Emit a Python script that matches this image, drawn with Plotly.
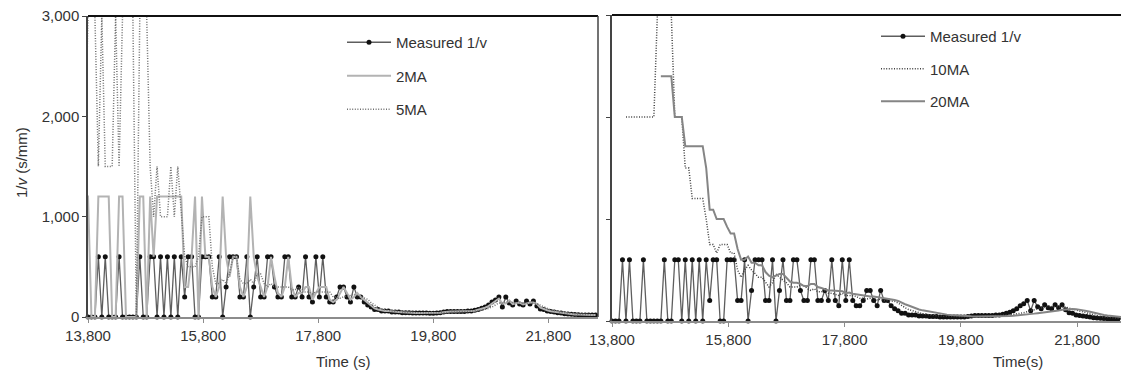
import plotly.graph_objects as go

# ---------------- data ----------------
# Measured 1/v (s/mm) sampled every 60 s; the first five samples precede the axis start
t_first = 13500
dt = 60
measured = [
    600, 0, 0, 0, 600,                      # 13,500 - 13,740 (before axis start)
    0, 0, 0, 600, 0, 600, 0, 0, 0, 600,
    0, 0, 0, 0, 0, 600, 0, 0, 600, 600,
    0, 600, 0, 600, 0, 600, 0, 600, 200, 600,
    600, 0, 0, 600, 600, 600, 200, 200, 600, 0,
    300, 600, 600, 600, 200, 200, 600, 0, 300, 600,
    200, 200, 600, 600, 300, 200, 200, 600, 600, 200,
    200, 300, 200, 600, 200, 150, 600, 200, 600, 200,
    150, 150, 200, 300, 300, 200, 150, 300, 200, 200,
    150, 120, 100, 75, 75, 60, 60, 60, 50, 50,
    50, 43, 43, 43, 40, 40, 40, 40, 40, 38,
    38, 40, 43, 50, 55, 55, 55, 55, 55, 55,
    60, 60, 67, 75, 86, 100, 120, 150, 170, 200,
    100, 200, 140, 120, 160, 130, 120, 160, 130, 160,
    110, 80, 75, 60, 55, 50, 43, 40, 33, 30,
    27, 25, 23, 20, 20, 20, 20, 20,
]
time_s = [t_first + dt * k for k in range(len(measured))]
axis_start = 13800

x_ticks = [13800, 15800, 17800, 19800, 21800]
y_ticks = [0, 1000, 2000, 3000]


def moving_avg_inv(series, n):
    """n-point moving average of velocity (1/value), returned again as 1/v."""
    out = []
    for i in range(len(series)):
        if i < n - 1:
            out.append(None)
            continue
        vs = [1.0 / s for s in series[i - n + 1:i + 1] if s > 0]
        tot = sum(vs)
        out.append(n / tot if tot > 0 else 0)
    return out


ma2 = moving_avg_inv(measured, 2)
ma5 = moving_avg_inv(measured, 5)
ma10 = moving_avg_inv(measured, 10)
ma20 = moving_avg_inv(measured, 20)

i0 = time_s.index(axis_start)

# ---------------- figure ----------------
W, H = 1121, 374
FONT = "Liberation Sans, Arial, sans-serif"
TXT = "#333333"
DOT = "1px,1.6px"

fig = go.Figure()

meas_style = dict(mode="lines+markers",
                  line=dict(color="#5e5e5e", width=1.3),
                  marker=dict(color="#111111", size=5),
                  cliponaxis=False)

# left panel
fig.add_trace(go.Scatter(x=time_s[i0:], y=measured[i0:], name="Measured 1/v",
                         xaxis="x", yaxis="y", legend="legend", legendgroup="a", **meas_style))
fig.add_trace(go.Scatter(x=time_s, y=ma2, name="2MA", mode="lines",
                         line=dict(color="#b3b3b3", width=2),
                         xaxis="x", yaxis="y", legend="legend", legendgroup="b"))
fig.add_trace(go.Scatter(x=time_s, y=ma5, name="5MA", mode="lines",
                         line=dict(color="#6f6f6f", width=1.5, dash=DOT),
                         xaxis="x", yaxis="y", legend="legend", legendgroup="c"))

# right panel
fig.add_trace(go.Scatter(x=time_s[i0:], y=measured[i0:], name="Measured 1/v",
                         xaxis="x2", yaxis="y2", legend="legend2", legendgroup="d", **meas_style))
fig.add_trace(go.Scatter(x=time_s, y=ma10, name="10MA", mode="lines",
                         line=dict(color="#404040", width=1.5, dash=DOT),
                         xaxis="x2", yaxis="y2", legend="legend2", legendgroup="e"))
fig.add_trace(go.Scatter(x=time_s, y=ma20, name="20MA", mode="lines",
                         line=dict(color="#858585", width=2),
                         xaxis="x2", yaxis="y2", legend="legend2", legendgroup="f"))

xl = [88 / W, 598 / W]
xr = [612 / W, 1.0]
yl = [1 - 317 / H, 1 - 16 / H]
yr = [1 - 321 / H, 1 - 15 / H]

xaxis_common = dict(tickvals=x_ticks, tickformat=",d", showgrid=False, zeroline=False,
                    showline=True, linecolor="#8c8c8c", linewidth=1.5, automargin=False,
                    ticks="outside", ticklen=4, tickcolor="#8c8c8c",
                    tickfont=dict(family=FONT, size=15, color=TXT))
yaxis_common = dict(range=[0, 3000], tickvals=y_ticks, tickformat=",d", showgrid=False,
                    zeroline=False, showline=True, linecolor="#444444", linewidth=1.5,
                    automargin=False,
                    ticks="outside", ticklen=4, tickcolor="#444444",
                    tickfont=dict(family=FONT, size=15, color=TXT))

fig.update_layout(
    width=W, height=H, margin=dict(l=0, r=0, t=0, b=0, autoexpand=False),
    paper_bgcolor="white", plot_bgcolor="white",
    font=dict(family=FONT, size=15, color=TXT),
    xaxis=dict(domain=xl, range=[axis_start, 22662], anchor="y", **xaxis_common),
    yaxis=dict(domain=yl, anchor="x", **yaxis_common),
    xaxis2=dict(domain=xr, range=[axis_start, 22553], anchor="y2", **xaxis_common),
    yaxis2=dict(domain=yr, anchor="x2", showticklabels=False, **yaxis_common),
    legend=dict(x=342 / W, y=1 - 26 / H, xanchor="left", yanchor="top",
                bgcolor="rgba(0,0,0,0)", font=dict(family=FONT, size=15, color=TXT),
                tracegroupgap=11, itemwidth=44, traceorder="grouped"),
    legend2=dict(x=876 / W, y=1 - 20 / H, xanchor="left", yanchor="top",
                 bgcolor="rgba(0,0,0,0)", font=dict(family=FONT, size=15, color=TXT),
                 tracegroupgap=10, itemwidth=44, traceorder="grouped"),
    showlegend=True,
)

# frame lines (top border of both panels, right border of left panel)
fig.add_shape(type="line", xref="x domain", yref="y domain", x0=0, x1=1, y0=1, y1=1,
              line=dict(color="#111111", width=2))
fig.add_shape(type="line", xref="x domain", yref="y domain", x0=1, x1=1, y0=0, y1=1,
              line=dict(color="#444444", width=1.5))
fig.add_shape(type="line", xref="x2 domain", yref="y2 domain", x0=0, x1=1, y0=1, y1=1,
              line=dict(color="#111111", width=2))

# axis titles
fig.add_annotation(text="1/<i>v</i> (s/mm)", xref="paper", yref="paper",
                   x=21 / W, y=1 - 163 / H, textangle=-90, showarrow=False,
                   xanchor="center", yanchor="middle", font=dict(family=FONT, size=15, color=TXT))
fig.add_annotation(text="Time (s)", xref="paper", yref="paper",
                   x=343 / W, y=1 - 361 / H, showarrow=False,
                   xanchor="center", yanchor="middle", font=dict(family=FONT, size=15, color=TXT))
fig.add_annotation(text="Time(s)", xref="paper", yref="paper",
                   x=1018 / W, y=1 - 361 / H, showarrow=False,
                   xanchor="center", yanchor="middle", font=dict(family=FONT, size=15, color=TXT))

fig.write_html("out.html")
